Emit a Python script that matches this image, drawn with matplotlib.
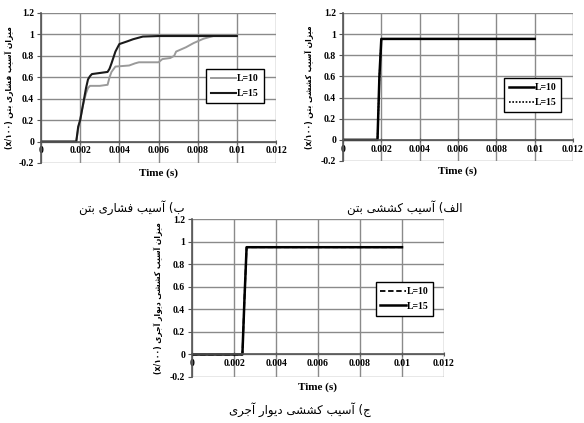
import matplotlib
matplotlib.use("Agg")
import matplotlib.pyplot as plt

# ---------------- data ----------------
# (top-left) compressive damage of concrete
t_comp_10 = [0, 0.0018, 0.00185, 0.0019, 0.002, 0.0021, 0.0022, 0.0023, 0.0024, 0.0025, 0.003, 0.0034,
             0.0035, 0.0036, 0.0038, 0.0045, 0.0048, 0.005, 0.006, 0.0062, 0.0066, 0.0068, 0.0069,
             0.0074, 0.0078, 0.0083, 0.0088, 0.01]
d_comp_10 = [0, 0, 0.06, 0.12, 0.2, 0.3, 0.38, 0.45, 0.5, 0.52, 0.52, 0.53,
             0.6, 0.65, 0.7, 0.71, 0.73, 0.74, 0.74, 0.77, 0.78, 0.8, 0.84,
             0.88, 0.92, 0.96, 0.985, 0.985]
t_comp_15 = [0, 0.0018, 0.00185, 0.0019, 0.002, 0.0021, 0.0022, 0.0023, 0.0024, 0.0025, 0.0026, 0.003,
             0.0034, 0.0035, 0.0036, 0.0038, 0.004, 0.0044, 0.0047, 0.0052, 0.006, 0.01]
d_comp_15 = [0, 0, 0.07, 0.14, 0.2, 0.3, 0.4, 0.5, 0.58, 0.61, 0.63, 0.64,
             0.65, 0.68, 0.73, 0.84, 0.91, 0.935, 0.955, 0.98, 0.985, 0.985]

# (top-right) tensile damage of concrete
t_tens_10 = [0, 0.0018, 0.0019, 0.002, 0.01]
d_tens_10 = [0, 0, 0.6, 0.955, 0.955]
t_tens_15 = [0, 0.0018, 0.0019, 0.002, 0.01]
d_tens_15 = [0, 0, 0.6, 0.955, 0.955]

# (bottom) tensile damage of brick wall
t_wall_10 = [0, 0.0024, 0.0025, 0.0026, 0.01]
d_wall_10 = [0, 0, 0.5, 0.95, 0.95]
t_wall_15 = [0, 0.0024, 0.0025, 0.0026, 0.01]
d_wall_15 = [0, 0, 0.5, 0.95, 0.95]

x_ticks = [0, 0.002, 0.004, 0.006, 0.008, 0.01, 0.012]
x_tick_labels = ["0", "0.002", "0.004", "0.006", "0.008", "0.01", "0.012"]
y_ticks = [-0.2, 0, 0.2, 0.4, 0.6, 0.8, 1, 1.2]
y_tick_labels = ["-0.2", "0", "0.2", "0.4", "0.6", "0.8", "1", "1.2"]
series_labels = ["L=10", "L=15"]
x_title = "Time (s)"
ylabel_comp = "میزان آسیب فشاری بتن"
ylabel_tens = "میزان آسیب کششی بتن"
ylabel_wall = "میزان آسیب کششی دیوار آجری"
ylabel_unit = "(x/۱۰۰)"
cap_comp = "ب) آسیب فشاری بتن"
cap_tens = "الف) آسیب کششی بتن"
cap_wall = "ج) آسیب کششی دیوار آجری"

# ---------------- simple Persian shaping ----------------
FORMS = {
    'ا': ('\uFE8D', '\uFE8E'),
    'آ': ('\uFE81', '\uFE82'),
    'د': ('\uFEA9', '\uFEAA'),
    'ر': ('\uFEAD', '\uFEAE'),
    'ز': ('\uFEAF', '\uFEB0'),
    'و': ('\uFEED', '\uFEEE'),
    'ب': ('\uFE8F', '\uFE90', '\uFE91', '\uFE92'),
    'ت': ('\uFE95', '\uFE96', '\uFE97', '\uFE98'),
    'ج': ('\uFE9D', '\uFE9E', '\uFE9F', '\uFEA0'),
    'س': ('\uFEB1', '\uFEB2', '\uFEB3', '\uFEB4'),
    'ش': ('\uFEB5', '\uFEB6', '\uFEB7', '\uFEB8'),
    'ف': ('\uFED1', '\uFED2', '\uFED3', '\uFED4'),
    'ک': ('\uFED9', '\uFEDA', '\uFEDB', '\uFEDC'),
    'ل': ('\uFEDD', '\uFEDE', '\uFEDF', '\uFEE0'),
    'م': ('\uFEE1', '\uFEE2', '\uFEE3', '\uFEE4'),
    'ن': ('\uFEE5', '\uFEE6', '\uFEE7', '\uFEE8'),
    'ی': ('\uFEEF', '\uFEF0', '\uFEF3', '\uFEF4'),
}


def rtl(s):
    out = []
    n = len(s)
    for i, ch in enumerate(s):
        if ch not in FORMS:
            out.append(ch)
            continue
        f = FORMS[ch]
        prev = s[i - 1] if i > 0 else None
        nxt = s[i + 1] if i + 1 < n else None
        jp = prev is not None and prev in FORMS and len(FORMS[prev]) == 4
        jn = len(f) == 4 and nxt is not None and nxt in FORMS
        if jp and jn:
            out.append(f[3])
        elif jp:
            out.append(f[1])
        elif jn:
            out.append(f[2])
        else:
            out.append(f[0])
    vis = ''.join(reversed(out))
    vis = vis.replace('(', '\0').replace(')', '(').replace('\0', ')')
    return vis


# ---------------- figure ----------------
W, H = 584, 423
fig = plt.figure(figsize=(W / 100, H / 100), dpi=100)
fig.patch.set_facecolor('white')

tick_font = dict(family='Liberation Serif', weight='bold', size=7)
ar_font = 'DejaVu Sans'


def px_axes(l, r, t, b):
    return fig.add_axes([l / W, 1 - b / H, (r - l) / W, (b - t) / H])


def style(ax):
    for s in ['top', 'right']:
        ax.spines[s].set_visible(False)
    ax.spines['bottom'].set_position(('data', 0))
    ax.set_xlim(0, 0.012)
    ax.set_ylim(-0.2, 1.2)
    ax.set_xticks(x_ticks)
    ax.set_xticklabels(x_tick_labels, **tick_font)
    ax.set_yticks(y_ticks)
    ax.set_yticklabels(y_tick_labels, **tick_font)
    ax.grid(True, color='#8a8a8a', lw=1.0)
    ax.set_axisbelow(True)
    ax.spines['bottom'].set_color('#555555')
    ax.spines['left'].set_color('#555555')
    ax.spines['bottom'].set_linewidth(1.2)
    ax.spines['left'].set_linewidth(1.2)
    ax.tick_params(axis='x', length=3, direction='inout', pad=2, colors='#555555', labelcolor='black')
    ax.tick_params(axis='y', length=3, direction='out', pad=2, colors='#555555', labelcolor='black')
    ax.set_xlabel(x_title, family='Liberation Serif', weight='bold', size=8)
    ax.xaxis.set_label_coords(0.5, -0.035)
    ax.xaxis.label.set_va('top')


def legend(ax, cx, cy):
    lg = ax.legend(loc='center', bbox_to_anchor=(cx, cy), frameon=True, fancybox=False,
                   prop=dict(family='Liberation Serif', weight='bold', size=7),
                   handlelength=2.6, handletextpad=0.1, borderpad=0.5, labelspacing=0.6,
                   borderaxespad=0)
    lg.get_frame().set_edgecolor('black')
    lg.get_frame().set_linewidth(1.0)
    lg.get_frame().set_alpha(1)


def ylab(x, ax, txt):
    pos = ax.get_position()
    fig.text(x / W, pos.y0 + pos.height * 0.5, ylabel_unit + ' ' + rtl(txt), rotation=90,
             ha='center', va='center', family=ar_font, weight='bold', size=5.5)


# top-left: compressive damage
ax1 = px_axes(41, 276, 13, 163)
style(ax1)
ax1.plot(t_comp_10, d_comp_10, color='#9a9a9a', lw=1.4, label=series_labels[0])
ax1.plot(t_comp_15, d_comp_15, color='#1a1a1a', lw=1.5, label=series_labels[1])
legend(ax1, 0.825, 0.513)
ylab(9, ax1, ylabel_comp)

# top-right: tensile damage of concrete
ax2 = px_axes(343, 573, 13, 161)
style(ax2)
ax2.plot(t_tens_10, d_tens_10, color='black', lw=1.8, label=series_labels[0])
ax2.plot(t_tens_15, d_tens_15, color='black', lw=1.2, ls=(0, (1, 1)), label=series_labels[1])
legend(ax2, 0.824, 0.446)
ylab(309, ax2, ylabel_tens)

# bottom: tensile damage of brick wall
ax3 = px_axes(192, 444, 219, 377)
style(ax3)
ax3.plot(t_wall_10, d_wall_10, color='black', lw=1.3, ls=(0, (3, 1.5)), label=series_labels[0])
ax3.plot(t_wall_15, d_wall_15, color='black', lw=1.8, label=series_labels[1])
legend(ax3, 0.843, 0.494)
ylab(158, ax3, ylabel_wall)

# captions
fig.text(132 / W, 1 - 208 / H, rtl(cap_comp), ha='center', va='center', family=ar_font, size=8.5)
fig.text(405 / W, 1 - 208 / H, rtl(cap_tens), ha='center', va='center', family=ar_font, size=8.5)
fig.text(300 / W, 1 - 410 / H, rtl(cap_wall), ha='center', va='center', family=ar_font, size=8.5)

fig.savefig('out.png', dpi=100, facecolor='white')
